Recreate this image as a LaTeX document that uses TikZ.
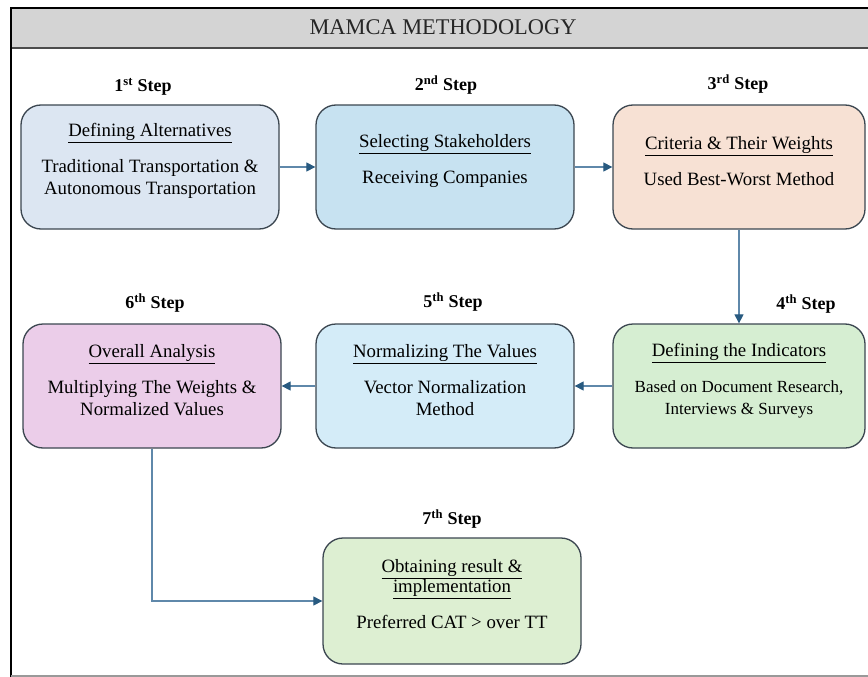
\documentclass[tikz,border=0pt]{standalone}
\usepackage{fontspec}
\setmainfont{Liberation Serif}
\usepackage{tikz}
\usetikzlibrary{arrows.meta, positioning, shapes.misc}

\definecolor{bandgray}{HTML}{D4D4D4}
\definecolor{boxline}{HTML}{3B4650}
\definecolor{flowline}{HTML}{5F88AA}
\definecolor{tipblue}{HTML}{285A80}
\definecolor{altfill}{HTML}{DCE6F2}
\definecolor{stakefill}{HTML}{C7E2F1}
\definecolor{critfill}{HTML}{F7E1D4}
\definecolor{indfill}{HTML}{D6EED2}
\definecolor{normfill}{HTML}{D4ECF8}
\definecolor{overfill}{HTML}{EBCDE9}
\definecolor{resfill}{HTML}{DDEFD2}

\tikzset{
    stepbox/.style={draw=boxline, line width=1.3pt, rounded corners=20pt,
        minimum width=258pt, minimum height=124pt},
    boxtext/.style={align=center, inner sep=0pt,
        font=\fontsize{18.8}{22}\selectfont},
    steplabel/.style={font=\bfseries\fontsize{18}{20}\selectfont},
    flow/.style={draw=flowline, line width=1.2pt,
        -{Triangle[length=9pt,width=9pt,color=tipblue]}}
}

\begin{document}
\begin{tikzpicture}[x=1pt, y=-1pt]
    \useasboundingbox (0,0) rectangle (868,677);

    % Frame and title
    \fill[bandgray] (11,8) rectangle (868,48);
    \draw[black!70, line width=1.4pt] (11,48) -- (868,48);
    \draw[black, line width=1.6pt] (868,8) -- (11,8) -- (11,677);
    \draw[black!40, line width=1.4pt] (11,676) -- (868,676);
    \node[font=\fontsize{22.4}{26}\selectfont, text=black!85] (title) at (443,27) {MAMCA METHODOLOGY};

    % Step labels
    \node[steplabel] (s1) at (143,87) {1\textsuperscript{st} Step};
    \node[steplabel] (s2) at (446,85) {2\textsuperscript{nd} Step};
    \node[steplabel] (s3) at (738,84) {3\textsuperscript{rd} Step};
    \node[steplabel] (s6) at (155,303) {6\textsuperscript{th} Step};
    \node[steplabel] (s5) at (453,302) {5\textsuperscript{th} Step};
    \node[steplabel] (s4) at (806,304) {4\textsuperscript{th} Step};
    \node[steplabel] (s7) at (452,519) {7\textsuperscript{th} Step};

    % Boxes, top row
    \node[stepbox, fill=altfill] (alt) at (150,167) {};
    \node[stepbox, fill=stakefill] (stake) at (445,167) {};
    \node[stepbox, fill=critfill, minimum width=252pt] (crit) at (739,167) {};

    % Boxes, middle row
    \node[stepbox, fill=overfill] (overall) at (152,386) {};
    \node[stepbox, fill=normfill] (norm) at (445,386) {};
    \node[stepbox, fill=indfill, minimum width=252pt] (ind) at (739,386) {};

    % Final box
    \node[stepbox, fill=resfill, minimum height=126pt] (result) at (452,601) {};

    % Box texts
    \node[boxtext] (alttext) at ([yshift=6pt]alt.center)
        {\underline{Defining Alternatives}\\[14pt]Traditional Transportation \&\\Autonomous Transportation};
    \node[boxtext] (staketext) at ([yshift=6pt]stake.center)
        {\underline{Selecting Stakeholders}\\[14pt]Receiving Companies};
    \node[boxtext] (crittext) at ([yshift=6pt]crit.center)
        {\underline{Criteria \& Their Weights}\\[14pt]Used Best-Worst Method};
    \node[boxtext] (overtext) at ([yshift=6pt]overall.center)
        {\underline{Overall Analysis}\\[14pt]Multiplying The Weights \&\\Normalized Values};
    \node[boxtext] (normtext) at ([yshift=6pt]norm.center)
        {\underline{Normalizing The Values}\\[14pt]Vector Normalization\\Method};
    \node[boxtext] (indtext) at ([yshift=5pt]ind.center)
        {\underline{Defining the Indicators}\\[14pt]{\fontsize{17}{22}\selectfont Based on Document Research,}\\{\fontsize{17}{22}\selectfont Interviews \& Surveys}};
    \node[boxtext] (restext) at ([yshift=7pt]result.center)
        {\underline{Obtaining result \&}\\[-2pt]\underline{implementation}\\[14pt]Preferred CAT > over TT};

    % Connectors
    \draw[flow] (alt) -- (stake);
    \draw[flow] (stake) -- (crit);
    \draw[flow] (crit) -- (ind);
    \draw[flow] (ind) -- (norm);
    \draw[flow] (norm) -- (overall);
    \draw[flow] (overall.south) |- (result.west);
\end{tikzpicture}
\end{document}
